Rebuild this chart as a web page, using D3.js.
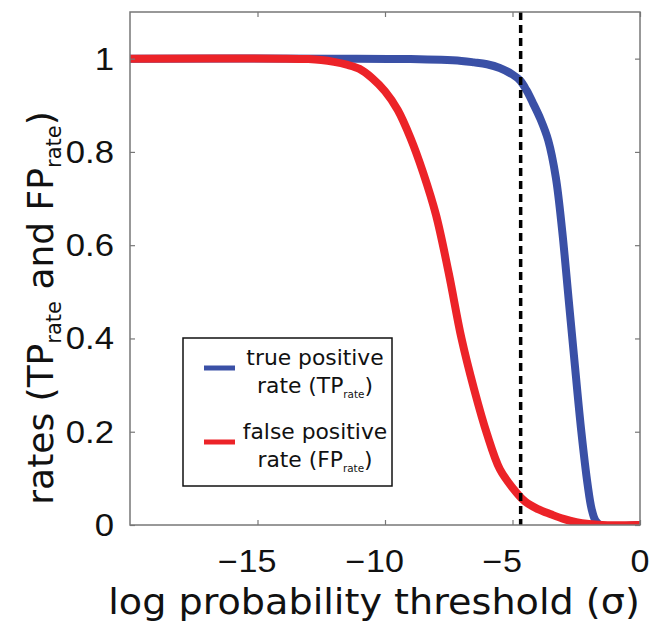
<!DOCTYPE html>
<html>
<head>
<meta charset="utf-8">
<script src="https://cdn.jsdelivr.net/npm/d3@7"></script>
<style>
  html, body { margin: 0; padding: 0; background: #fff; }
  svg { display: block; }
</style>
</head>
<body>
<svg id="chart" width="652" height="624"></svg>
<script>
// ---- data ----
const xTicks = [-15, -10, -5, 0];
const yTicks = [0, 0.2, 0.4, 0.6, 0.8, 1];
const yTickLabels = ["0", "0.2", "0.4", "0.6", "0.8", "1"];

const tpThreshold = [-20, -12, -9, -7, -6.5, -6, -5.5, -5, -4.7, -4.45, -4.2, -3.9, -3.6, -3.3, -3.05, -2.8, -2.55, -2.3, -2.05, -1.9, -1.75, -1.55, 0];
const tpRate      = [1, 1, 0.999, 0.995, 0.992, 0.988, 0.98, 0.966, 0.953, 0.932, 0.905, 0.87, 0.825, 0.745, 0.63, 0.485, 0.34, 0.2, 0.085, 0.035, 0.01, 0, 0];

const fpThreshold = [-20, -14, -13, -12.5, -12, -11.5, -11, -10.5, -10, -9.5, -9, -8.5, -8, -7.5, -7, -6.5, -6, -5.5, -5, -4.5, -4, -3.5, -3, -2.5, -2, -1.5, 0];
const fpRate      = [1, 1, 0.999, 0.997, 0.993, 0.987, 0.978, 0.958, 0.93, 0.89, 0.83, 0.755, 0.665, 0.54, 0.40, 0.29, 0.195, 0.12, 0.08, 0.05, 0.034, 0.023, 0.013, 0.006, 0.002, 0, 0];

const cutoff = [-4.68];

const seriesNames = ["true positive", "false positive"];
const seriesSub = ["TP", "FP"];
const seriesColors = ["#3a50a6", "#ec2328"];

// ---- layout ----
const svg = d3.select("#chart");
const m = { left: 130, right: 640, top: 12, bottom: 525 };
const x = d3.scaleLinear().domain([-20, 0]).range([m.left, m.right]);
const y = d3.scaleLinear().domain([0, 1.1]).range([m.bottom, m.top]);

const axisColor = "#777";
const tickFont = "'Liberation Sans', Arial, Helvetica, sans-serif";
const labelFont = "'DejaVu Sans', Verdana, sans-serif";
const textColor = "#111";

const line = d3.line().x(d => x(d[0])).y(d => y(d[1])).curve(d3.curveCatmullRom.alpha(0.5));

const tpData = tpThreshold.map((t, i) => [t, tpRate[i]]);
const fpData = fpThreshold.map((t, i) => [t, fpRate[i]]);

// clip
svg.append("clipPath").attr("id", "clip").append("rect")
  .attr("x", m.left).attr("y", m.top).attr("width", m.right - m.left).attr("height", m.bottom - m.top);

const plot = svg.append("g").attr("clip-path", "url(#clip)");
plot.append("path").datum(tpData).attr("d", line)
  .attr("fill", "none").attr("stroke", seriesColors[0]).attr("stroke-width", 8).attr("stroke-linejoin", "round");
plot.append("path").datum(fpData).attr("d", line)
  .attr("fill", "none").attr("stroke", seriesColors[1]).attr("stroke-width", 8).attr("stroke-linejoin", "round");

// dashed cutoff
svg.selectAll(".cut").data(cutoff).enter().append("line")
  .attr("x1", d => x(d)).attr("x2", d => x(d))
  .attr("y1", m.top).attr("y2", m.bottom)
  .attr("stroke", "#000").attr("stroke-width", 3.5).attr("stroke-dasharray", "8,5");

// axes (box with inward ticks on all sides)
const bottomAxis = d3.axisBottom(x).tickValues(xTicks).tickSize(-5).tickFormat("");
const topAxis = d3.axisTop(x).tickValues(xTicks).tickSize(-5).tickFormat("");
const leftAxis = d3.axisLeft(y).tickValues(yTicks).tickSize(-5).tickFormat("");
const rightAxis = d3.axisRight(y).tickValues(yTicks).tickSize(-5).tickFormat("");

function styleAxis(g) {
  g.select(".domain").remove();
  g.selectAll(".tick line").attr("stroke", axisColor).attr("stroke-width", 1.2);
}
svg.append("g").attr("transform", `translate(0,${m.bottom})`).call(bottomAxis).call(styleAxis);
svg.append("g").attr("transform", `translate(0,${m.top})`).call(topAxis).call(styleAxis);
svg.append("g").attr("transform", `translate(${m.left},0)`).call(leftAxis).call(styleAxis);
svg.append("g").attr("transform", `translate(${m.right},0)`).call(rightAxis).call(styleAxis);

svg.append("rect").attr("x", m.left).attr("y", m.top)
  .attr("width", m.right - m.left).attr("height", m.bottom - m.top)
  .attr("fill", "none").attr("stroke", axisColor).attr("stroke-width", 1.5);

// text helper: horizontally widened text (reference glyphs are wide)
function wideText(parent, px, py, sx, anchor, size, family) {
  return parent.append("text")
    .attr("transform", `translate(${px},${py}) scale(${sx},1)`)
    .attr("text-anchor", anchor)
    .attr("font-family", family).attr("font-size", size).attr("fill", textColor);
}

// x tick labels: digits centred on tick, minus sign hung to the left
xTicks.forEach(d => {
  const digits = String(Math.abs(d));
  const t = wideText(svg, x(d), 572, 1.1, "middle", 31, tickFont).text(digits);
  if (d < 0) {
    const w = t.node().getComputedTextLength() * 1.1;
    wideText(svg, x(d) - w / 2 - 1, 572, 1.1, "end", 31, tickFont).text("\u2212");
  }
});

// y tick labels
yTicks.forEach((d, i) => {
  wideText(svg, 114, y(d) + 11, 1.12, "end", 31, tickFont).text(yTickLabels[i]);
});

// axis labels
wideText(svg, 374, 614, 1.06, "middle", 36, labelFont).text("log probability threshold (σ)");

const yl = svg.append("text")
  .attr("transform", "translate(53,308) rotate(-90)")
  .attr("text-anchor", "middle")
  .attr("font-family", labelFont).attr("font-size", 36).attr("fill", textColor);
yl.append("tspan").text("rates (TP");
yl.append("tspan").attr("font-size", 21).attr("dy", 8).text("rate");
yl.append("tspan").attr("dy", -8).text(" and FP");
yl.append("tspan").attr("font-size", 21).attr("dy", 8).text("rate");
yl.append("tspan").attr("dy", -8).text(")");

// legend
const lg = svg.append("g");
lg.append("rect").attr("x", 183).attr("y", 338).attr("width", 209).attr("height", 148)
  .attr("fill", "#fff").attr("stroke", "#111").attr("stroke-width", 1.5);

const legY = [368, 442];
seriesNames.forEach((name, i) => {
  lg.append("line").attr("x1", 204).attr("x2", 235)
    .attr("y1", legY[i]).attr("y2", legY[i])
    .attr("stroke", seriesColors[i]).attr("stroke-width", 5);
  wideText(lg, 315, legY[i] - 3, 1.04, "middle", 21, labelFont).text(name);
  const t2 = wideText(lg, 315, legY[i] + 25, 1.04, "middle", 21, labelFont);
  t2.append("tspan").text("rate (" + seriesSub[i]);
  t2.append("tspan").attr("font-size", 10).attr("dy", 5).text("rate");
  t2.append("tspan").attr("dy", -5).text(")");
});
</script>
</body>
</html>
